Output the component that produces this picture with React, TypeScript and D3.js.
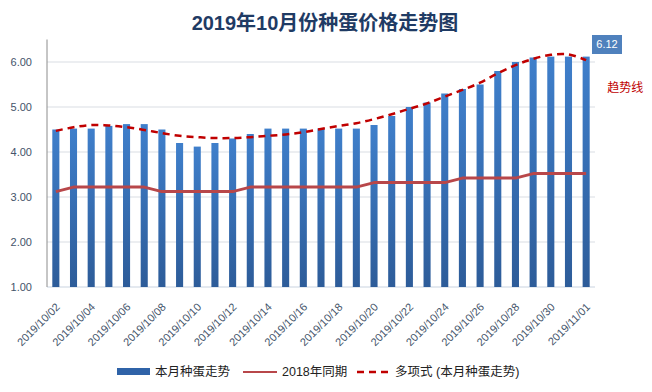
import React from "react";
import * as d3 from "d3";

// 2019/10/02 .. 2019/11/01
const dates = [
  "2019/10/02", "2019/10/03", "2019/10/04", "2019/10/05", "2019/10/06", "2019/10/07",
  "2019/10/08", "2019/10/09", "2019/10/10", "2019/10/11", "2019/10/12", "2019/10/13",
  "2019/10/14", "2019/10/15", "2019/10/16", "2019/10/17", "2019/10/18", "2019/10/19",
  "2019/10/20", "2019/10/21", "2019/10/22", "2019/10/23", "2019/10/24", "2019/10/25",
  "2019/10/26", "2019/10/27", "2019/10/28", "2019/10/29", "2019/10/30", "2019/10/31",
  "2019/11/01",
];
// 本月种蛋走势
const thisMonth = [
  4.50, 4.52, 4.52, 4.58, 4.62, 4.62, 4.50, 4.20, 4.12, 4.20, 4.30, 4.40, 4.52, 4.52, 4.52, 4.52,
  4.52, 4.52, 4.60, 4.80, 5.00, 5.10, 5.30, 5.40, 5.50, 5.80, 6.00, 6.10, 6.12, 6.12, 6.12,
];
// 2018年同期
const lastYear = [
  3.12, 3.22, 3.22, 3.22, 3.22, 3.22, 3.12, 3.12, 3.12, 3.12, 3.12, 3.22, 3.22, 3.22, 3.22, 3.22,
  3.22, 3.22, 3.32, 3.32, 3.32, 3.32, 3.32, 3.42, 3.42, 3.42, 3.42, 3.52, 3.52, 3.52, 3.52,
];
// 多项式 trend
const trend = [
  4.47, 4.55, 4.60, 4.59, 4.55, 4.49, 4.42, 4.36, 4.33, 4.31, 4.31, 4.33, 4.36, 4.39, 4.44, 4.51,
  4.58, 4.64, 4.73, 4.84, 4.96, 5.08, 5.23, 5.38, 5.54, 5.75, 5.93, 6.07, 6.16, 6.17, 6.04,
];
const yTicks = [1, 2, 3, 4, 5, 6];

const W = 652;
const H = 392;
const left = 47;
const right = 595;
const bottom = 287;
const top = 39.5;

const cjk = "'Liberation Sans', 'Noto Sans CJK SC', sans-serif";

const App = () => {
  const x = d3
    .scaleBand()
    .domain(dates)
    .range([left, right])
    .paddingInner(0.6)
    .paddingOuter(0.3);

  const y = d3.scaleLinear().domain([1, 6.5]).range([bottom, top]);
  const cx = (d: string) => (x(d) as number) + x.bandwidth() / 2;

  const line2018 = d3
    .line<number>()
    .x((d, i) => cx(dates[i]))
    .y((d) => y(d));

  const trendLine = d3
    .line<number>()
    .x((d, i) => cx(dates[i]))
    .y((d) => y(d))
    .curve(d3.curveCatmullRom);

  const format = d3.format(".2f");
  const lastX = cx(dates[dates.length - 1]);

  return (
    <svg width={W} height={H} style={{ position: "absolute", left: 0, top: 0, background: "#fff" }}>
      <defs>
        <linearGradient id="barFill" x1="0" y1="0" x2="0" y2="1">
          <stop offset="0%" stopColor="#3f7fcb" />
          <stop offset="100%" stopColor="#2d5c99" />
        </linearGradient>
      </defs>

      <text
        x={325}
        y={30}
        textAnchor="middle"
        fontSize="20"
        fontWeight="bold"
        fill="#1f3b64"
        fontFamily={cjk}
      >
        2019年10月份种蛋价格走势图
      </text>

      {/* grid + y axis */}
      {yTicks.map((t) => (
        <g key={"grid" + t}>
          <line x1={left} x2={right} y1={y(t)} y2={y(t)} stroke={t === 1 ? "#c9d3e0" : "#d9dde3"} strokeWidth={1} />
          <text
            x={32}
            y={y(t)}
            dy="0.35em"
            textAnchor="end"
            fontSize="11"
            fill="#44546a"
            fontFamily={cjk}
          >
            {format(t)}
          </text>
        </g>
      ))}
      <line x1={left} x2={left} y1={top} y2={bottom} stroke="#8c8c8c" strokeWidth={1} />

      {/* bars */}
      {thisMonth.map((v, i) => (
        <rect
          key={"bar" + i}
          x={x(dates[i])}
          y={y(v)}
          width={x.bandwidth()}
          height={bottom - y(v)}
          fill="url(#barFill)"
        />
      ))}

      <path d={line2018(lastYear) || ""} fill="none" stroke="#b8474a" strokeWidth={3} strokeLinejoin="round" />
      <path
        d={trendLine(trend) || ""}
        fill="none"
        stroke="#c00000"
        strokeWidth={2.5}
        strokeDasharray="7,5"
      />

      {/* x labels */}
      {dates.map((d, i) =>
        i % 2 === 0 ? (
          <text
            key={"xl" + d}
            transform={`translate(${cx(d) + 2}, ${305}) rotate(-45)`}
            textAnchor="end"
            dy="0.35em"
            fontSize="11"
            fill="#44546a"
            fontFamily={cjk}
          >
            {d}
          </text>
        ) : null
      )}

      {/* data label for last bar */}
      <rect x={592} y={35} width={30} height={19} fill="#4f81bd" />
      <text x={607} y={44.5} dy="0.35em" textAnchor="middle" fontSize="11" fill="#fff" fontFamily={cjk}>
        {format(thisMonth[thisMonth.length - 1])}
      </text>
      <text x={lastX + 21} y={88} dy="0.35em" fontSize="12" fill="#c00000" fontFamily={cjk}>
        趋势线
      </text>

      {/* legend */}
      <g fontFamily={cjk} fontSize="12.5" fill="#222">
        <rect x={117} y={368} width={33} height={7} fill="#2f63a8" />
        <text x={155} y={372} dy="0.35em">本月种蛋走势</text>
        <line x1={243} x2={277} y1={372} y2={372} stroke="#b8474a" strokeWidth={2} />
        <text x={282} y={372} dy="0.35em">2018年同期</text>
        <line x1={357} x2={391} y1={372} y2={372} stroke="#c00000" strokeWidth={2.5} strokeDasharray="7,5" />
        <text x={395} y={372} dy="0.35em">多项式 (本月种蛋走势)</text>
      </g>
    </svg>
  );
};

export default App;
